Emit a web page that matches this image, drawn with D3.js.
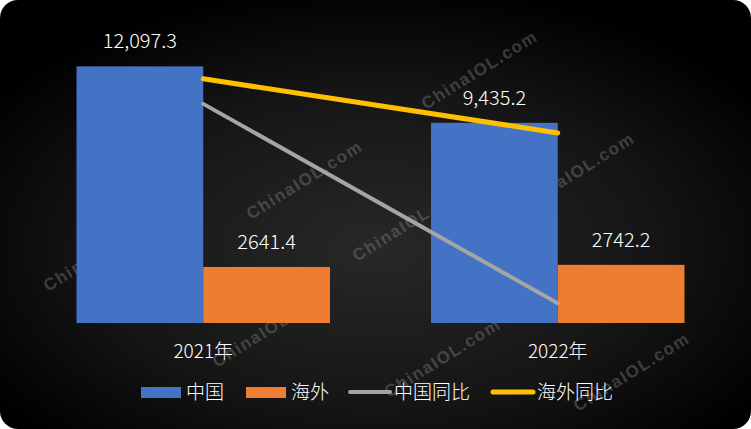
<!DOCTYPE html>
<html>
<head>
<meta charset="utf-8">
<script src="https://cdn.jsdelivr.net/npm/d3@7"></script>
<style>
  html, body { margin: 0; padding: 0; background: #fff; }
  svg { display: block; }
  text { font-family: "Noto Sans CJK SC", "Noto Sans", sans-serif; }
</style>
</head>
<body>
<svg id="chart" width="751" height="429"></svg>
<script>
// data
var categories = ["2021年", "2022年"];
var barSeries = ["中国", "海外"];
var chinaValues = [12097.3, 9435.2];
var overseasValues = [2641.4, 2742.2];
var chinaLabels = ["12,097.3", "9,435.2"];
var overseasLabels = ["2641.4", "2742.2"];
var lineSeries = ["中国同比", "海外同比"];
var chinaYoY = [8.2, -22.0];
var overseasYoY = [12.0, 3.8];
var watermarks = [[426, 110], [251, 220], [357, 262], [523, 212], [48, 292], [217, 368], [389, 398], [578, 412]];

var W = 751, H = 429;
var colors = { "中国": "#4472C4", "海外": "#ED7D31", "中国同比": "#A5A5A5", "海外同比": "#FFC000" };

var svg = d3.select("#chart");

// background
var defs = svg.append("defs");
var grad = defs.append("radialGradient").attr("id", "bg")
  .attr("cx", "50%").attr("cy", "58%").attr("r", "62%");
grad.append("stop").attr("offset", "0%").attr("stop-color", "#282828");
grad.append("stop").attr("offset", "60%").attr("stop-color", "#151515");
grad.append("stop").attr("offset", "100%").attr("stop-color", "#000");
svg.append("rect").attr("width", W).attr("height", H).attr("rx", 18).attr("ry", 18).attr("fill", "url(#bg)");

// watermarks
svg.append("g").selectAll("text")
  .data(watermarks)
  .join("text")
  .attr("transform", d => `translate(${d[0]},${d[1]}) rotate(-32)`)
  .attr("font-weight", "bold")
  .attr("font-size", 17)
  .attr("letter-spacing", 1.5)
  .attr("fill", "#8a8a8a")
  .attr("fill-opacity", 0.4)
  .style("font-family", "'Liberation Sans', Arial, sans-serif")
  .text("ChinaIOL.com");

// scales
var x0 = d3.scaleBand().domain(categories).range([26, 735]).paddingInner(0.285).paddingOuter(0.1425);
var x1 = d3.scaleBand().domain(barSeries).range([0, x0.bandwidth()]);
var y = d3.scaleLinear().domain([0, 14000]).range([323, 26]);
var y2 = d3.scaleLinear().domain([-25, 20]).range([323, 26]);

var rows = categories.map((c, i) => ({
  cat: c,
  bars: [
    { key: "中国", value: chinaValues[i], label: chinaLabels[i] },
    { key: "海外", value: overseasValues[i], label: overseasLabels[i] }
  ]
}));

var groups = svg.append("g").selectAll("g")
  .data(rows)
  .join("g")
  .attr("transform", d => `translate(${x0(d.cat)},0)`);

groups.selectAll("rect")
  .data(d => d.bars)
  .join("rect")
  .attr("x", d => x1(d.key))
  .attr("y", d => y(d.value))
  .attr("width", x1.bandwidth())
  .attr("height", d => y(0) - y(d.value))
  .attr("fill", d => colors[d.key]);

groups.selectAll("text.val")
  .data(d => d.bars)
  .join("text")
  .attr("class", "val")
  .attr("x", d => x1(d.key) + x1.bandwidth() / 2)
  .attr("y", d => y(d.value) - 18)
  .attr("text-anchor", "middle")
  .attr("font-size", 20)
  .attr("font-weight", 300)
  .attr("fill", "#fff")
  .text(d => d.label);

// lines
var cx = d => x0(d) + x0.bandwidth() / 2;
var line = d3.line().x(d => cx(d.cat)).y(d => y2(d.v));
var lineData = [
  { key: "中国同比", pts: categories.map((c, i) => ({ cat: c, v: chinaYoY[i] })), w: 4 },
  { key: "海外同比", pts: categories.map((c, i) => ({ cat: c, v: overseasYoY[i] })), w: 5 }
];
svg.append("g").selectAll("path")
  .data(lineData)
  .join("path")
  .attr("d", d => line(d.pts))
  .attr("fill", "none")
  .attr("stroke", d => colors[d.key])
  .attr("stroke-width", d => d.w)
  .attr("stroke-linecap", "round");

// category axis labels
svg.append("g").selectAll("text")
  .data(categories)
  .join("text")
  .attr("x", d => cx(d))
  .attr("y", 358)
  .attr("text-anchor", "middle")
  .attr("font-size", 19)
  .attr("font-weight", 300)
  .attr("fill", "#fff")
  .text(d => d);

// legend
var legendItems = [
  { key: "中国", type: "bar", x: 141 },
  { key: "海外", type: "bar", x: 246 },
  { key: "中国同比", type: "line", x: 348 },
  { key: "海外同比", type: "line", x: 491 }
];
var lg = svg.append("g").selectAll("g")
  .data(legendItems)
  .join("g")
  .attr("transform", d => `translate(${d.x},392)`);
lg.filter(d => d.type === "bar").append("rect")
  .attr("x", 0).attr("y", -5).attr("width", 40).attr("height", 11)
  .attr("fill", d => colors[d.key]);
lg.filter(d => d.type === "line").append("line")
  .attr("x1", 2).attr("x2", 42).attr("y1", 0).attr("y2", 0)
  .attr("stroke", d => colors[d.key])
  .attr("stroke-width", d => d.key === "海外同比" ? 5 : 4)
  .attr("stroke-linecap", "round");
lg.append("text")
  .attr("x", d => d.type === "bar" ? 45 : 46)
  .attr("y", 7)
  .attr("font-size", 19)
  .attr("font-weight", 300)
  .attr("fill", "#fff")
  .text(d => d.key);
</script>
</body>
</html>
